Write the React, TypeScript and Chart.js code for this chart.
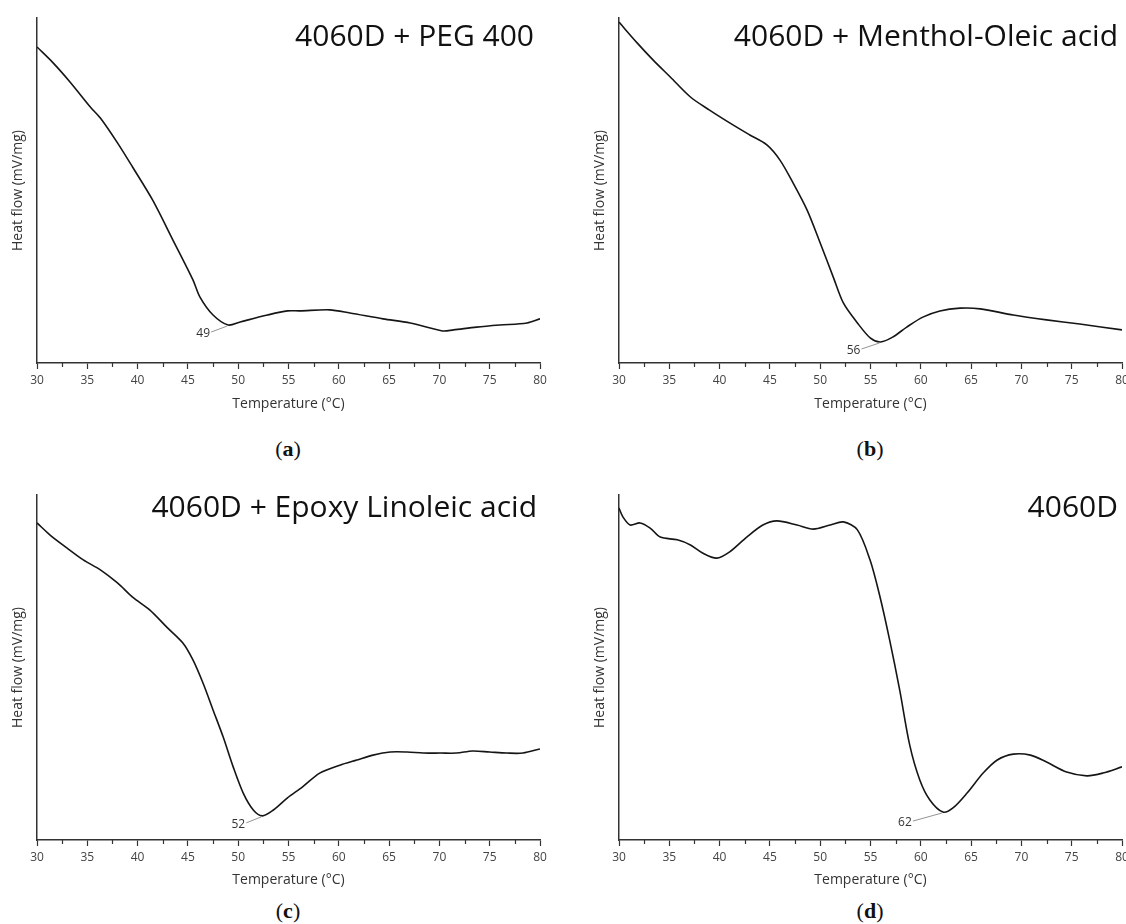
import React, { useEffect, useRef } from "react";
import { Chart, registerables } from "chart.js";

Chart.register(...registerables);

// ---------- Data ----------
const tempsA = [30, 31.6, 33.3, 35.3, 36.3, 38.0, 39.5, 41.5, 43.5, 45.5, 46.2, 47.5, 49.0, 50.2, 52.9, 54.9, 56.1, 59.1, 61.1, 64.4, 67.1, 70.3, 71.4, 73.7, 76.0, 78.7, 80];
const heatA = [91.6, 87.0, 81.4, 74.2, 71.0, 63.8, 56.8, 47.2, 35.7, 24.1, 19.1, 13.9, 11.0, 11.9, 13.9, 15.1, 15.1, 15.4, 14.5, 12.8, 11.6, 9.3, 9.6, 10.4, 11.0, 11.6, 12.8];

const tempsB = [30, 31.8, 33.4, 35.1, 37.1, 39.0, 41.0, 43.0, 44.7, 46.0, 47.3, 48.7, 50.0, 51.3, 52.3, 53.7, 55.0, 56.0, 57.2, 58.6, 60.2, 61.9, 63.9, 65.9, 69.2, 72.5, 75.8, 80];
const heatB = [98.8, 92.8, 87.8, 82.9, 77.1, 73.3, 69.6, 66.1, 63.2, 58.8, 52.2, 44.3, 34.8, 24.9, 17.4, 11.6, 7.2, 6.1, 7.5, 10.4, 13.3, 15.1, 15.9, 15.7, 13.9, 12.5, 11.3, 9.6];

const tempsC = [30, 31.3, 33.0, 34.6, 36.3, 38.0, 39.5, 41.2, 42.9, 44.5, 45.5, 46.5, 47.5, 48.5, 49.5, 50.5, 51.5, 52.4, 53.5, 54.9, 56.4, 58.1, 60.1, 61.8, 63.4, 65.1, 66.8, 68.4, 70.1, 71.7, 73.3, 75.0, 76.7, 78.3, 80];
const heatC = [91.9, 88.4, 84.6, 81.2, 78.3, 74.5, 70.4, 66.7, 61.7, 57.1, 52.2, 45.5, 37.7, 29.9, 21.2, 13.6, 8.7, 7.0, 8.7, 12.2, 15.4, 19.4, 21.7, 23.2, 24.6, 25.5, 25.5, 25.2, 25.2, 25.2, 25.8, 25.5, 25.2, 25.2, 26.4];

const tempsD = [30, 30.4, 31.1, 32.1, 33.1, 34.1, 35.8, 37.1, 38.3, 39.7, 41.0, 42.7, 44.3, 45.7, 47.7, 49.3, 51.0, 52.3, 53.7, 54.95, 55.9, 56.9, 57.9, 58.9, 59.9, 60.9, 62.2, 63.2, 64.6, 66.2, 67.6, 69.2, 70.9, 72.5, 74.5, 76.5, 78.1, 80];
const heatD = [96.2, 93.6, 91.3, 91.9, 90.4, 87.8, 87.0, 85.5, 83.2, 81.7, 83.5, 87.8, 91.3, 92.5, 91.3, 90.1, 91.3, 92.2, 89.9, 81.2, 71.0, 58.0, 43.5, 27.5, 17.4, 11.6, 8.1, 9.3, 13.6, 19.4, 23.2, 24.9, 24.6, 22.6, 19.7, 18.6, 19.4, 21.2];

const panelTitles = ["4060D + PEG 400", "4060D + Menthol-Oleic acid", "4060D + Epoxy Linoleic acid", "4060D"];
const panelLetters = ["a", "b", "c", "d"];
const peakTemps = [49, 56, 52, 62];
const xTickStep = 2.5;
const xMin = 30;
const xMax = 80;
const xTitle = "Temperature (°C)";
const yTitle = "Heat flow (mV/mg)";

// ---------- Layout (styles only) ----------
const FONT = "'Open Sans', 'Liberation Sans', sans-serif";
const CANVAS_H = 425;

type Panel = {
  temps: number[];
  heat: number[];
  left: number;
  top: number;
  width: number;
  padTop: number;
  padRight: number;
  titleBottomPad: number;
  labelDx: number;
  labelDy: number;
};

const panels: Panel[] = [
  { temps: tempsA, heat: heatA, left: 0, top: 0, width: 563, padTop: 18, padRight: 23, titleBottomPad: 12.6, labelDx: -25, labelDy: 9 },
  { temps: tempsB, heat: heatB, left: 582, top: 0, width: 544, padTop: 18, padRight: 4, titleBottomPad: 12.6, labelDx: -27, labelDy: 9 },
  { temps: tempsC, heat: heatC, left: 0, top: 470, width: 563, padTop: 25, padRight: 23, titleBottomPad: 6.6, labelDx: -24, labelDy: 9 },
  { temps: tempsD, heat: heatD, left: 582, top: 470, width: 544, padTop: 25, padRight: 4, titleBottomPad: 6.6, labelDx: -38, labelDy: 11 },
];

const minorTickPlugin = {
  id: "minorTicks",
  afterDraw(chart: any) {
    const x = chart.scales.x;
    const ctx = chart.ctx;
    ctx.save();
    ctx.strokeStyle = "#333";
    ctx.lineWidth = 1.2;
    x.ticks.forEach((t: any) => {
      if (Math.abs(t.value % 5) > 1e-6) {
        const px = Math.round(x.getPixelForValue(t.value)) + 0.5;
        ctx.beginPath();
        ctx.moveTo(px, x.top);
        ctx.lineTo(px, x.top + 4);
        ctx.stroke();
      }
    });
    ctx.restore();
  },
};

const peakPlugin = {
  id: "peakLabel",
  afterDatasetsDraw(chart: any, _args: any, opts: any) {
    const { ctx } = chart;
    const x = chart.scales.x;
    const y = chart.scales.y;
    const data = chart.data.datasets[0].data as { x: number; y: number }[];
    let best = data[0];
    data.forEach((p) => {
      if (Math.abs(p.x - opts.temp) < Math.abs(best.x - opts.temp)) best = p;
    });
    const px = x.getPixelForValue(best.x);
    const py = y.getPixelForValue(best.y);
    const lx = px + opts.dx;
    const ly = py + opts.dy;
    ctx.save();
    ctx.strokeStyle = "#888";
    ctx.lineWidth = 0.9;
    ctx.beginPath();
    ctx.moveTo(lx + 8, ly - 2);
    ctx.lineTo(px - 1, py + 1);
    ctx.stroke();
    ctx.fillStyle = "#333";
    ctx.font = `12px ${FONT}`;
    ctx.textAlign = "center";
    ctx.textBaseline = "middle";
    ctx.fillText(String(opts.temp), lx, ly);
    ctx.restore();
  },
};

function DscChart({ panel, peak }: { panel: Panel; peak: number }) {
  const ref = useRef<HTMLCanvasElement>(null);
  useEffect(() => {
    if (!ref.current) return;
    const points = panel.temps.map((t, i) => ({ x: t, y: panel.heat[i] }));
    const chart = new Chart(ref.current, {
      type: "line",
      data: {
        datasets: [
          {
            data: points,
            borderColor: "#151515",
            borderWidth: 1.6,
            pointRadius: 0,
            fill: false,
            tension: 0.3,
          },
        ],
      },
      plugins: [minorTickPlugin, peakPlugin],
      options: {
        responsive: false,
        animation: false,
        layout: { padding: { top: panel.padTop, right: panel.padRight, left: 0, bottom: 0 } },
        plugins: {
          legend: { display: false },
          tooltip: { enabled: false },
          peakLabel: { temp: peak, dx: panel.labelDx, dy: panel.labelDy },
        } as any,
        scales: {
          x: {
            type: "linear",
            min: xMin,
            max: xMax,
            afterFit: (s: any) => {
              s.height = CANVAS_H - panel.padTop - 345;
              s.paddingLeft = 0;
              s.paddingRight = 0;
            },
            ticks: {
              stepSize: xTickStep,
              autoSkip: false,
              maxRotation: 0,
              color: "#444",
              font: { family: FONT, size: 12 },
              padding: 4,
              callback: (v: any) => (Math.abs(Number(v) % 5) < 1e-6 ? String(v) : ""),
            },
            grid: {
              display: true,
              drawOnChartArea: false,
              drawTicks: true,
              tickLength: 6,
              tickWidth: 1.2,
              tickColor: (c: any) =>
                c.tick && Math.abs(c.tick.value % 5) < 1e-6 ? "#333" : "rgba(0,0,0,0)",
            },
            border: { display: true, color: "#333", width: 1.5 },
            title: {
              display: true,
              text: xTitle,
              color: "#333",
              font: { family: FONT, size: 14 },
              padding: { top: 0, bottom: panel.titleBottomPad },
            },
          },
          y: {
            min: 0,
            max: 100,
            afterFit: (s: any) => {
              s.width = 37;
            },
            ticks: { display: false },
            grid: { display: true, drawOnChartArea: false, drawTicks: false },
            border: { display: true, color: "#333", width: 1.5 },
            title: {
              display: true,
              text: yTitle,
              color: "#333",
              font: { family: FONT, size: 14 },
              padding: { top: 9.6, bottom: 0 },
            },
          },
        },
      } as any,
    });
    return () => chart.destroy();
  }, [panel, peak]);
  return (
    <canvas
      ref={ref}
      width={panel.width}
      height={CANVAS_H}
      style={{ position: "absolute", left: panel.left, top: panel.top, width: panel.width, height: CANVAS_H }}
    />
  );
}

const titlePos = [
  { right: 534, cy: 36 },
  { right: 1118, cy: 36 },
  { right: 537, cy: 507 },
  { right: 1118, cy: 507 },
];
const letterPos = [
  { cx: 288, cy: 451 },
  { cx: 870, cy: 451 },
  { cx: 288, cy: 913 },
  { cx: 870, cy: 913 },
];

export default function App() {
  return (
    <div
      style={{
        position: "absolute",
        left: 0,
        top: 0,
        width: 1126,
        height: 924,
        overflow: "hidden",
        background: "#fff",
      }}
    >
      {panels.map((p, i) => (
        <DscChart key={i} panel={p} peak={peakTemps[i]} />
      ))}
      {panelTitles.map((t, i) => (
        <div
          key={"t" + i}
          style={{
            position: "absolute",
            left: 0,
            width: titlePos[i].right,
            top: titlePos[i].cy - 19,
            height: 36,
            lineHeight: "36px",
            textAlign: "right",
            fontFamily: FONT,
            fontSize: 30,
            color: "#111",
            whiteSpace: "nowrap",
          }}
        >
          {t}
        </div>
      ))}
      {panelLetters.map((l, i) => (
        <div
          key={"l" + i}
          style={{
            position: "absolute",
            left: letterPos[i].cx - 40,
            width: 80,
            top: letterPos[i].cy - 15,
            height: 26,
            lineHeight: "26px",
            textAlign: "center",
            fontFamily: "'Liberation Serif', serif",
            fontSize: 22,
            color: "#111",
          }}
        >
          (<b>{l}</b>)
        </div>
      ))}
    </div>
  );
}
